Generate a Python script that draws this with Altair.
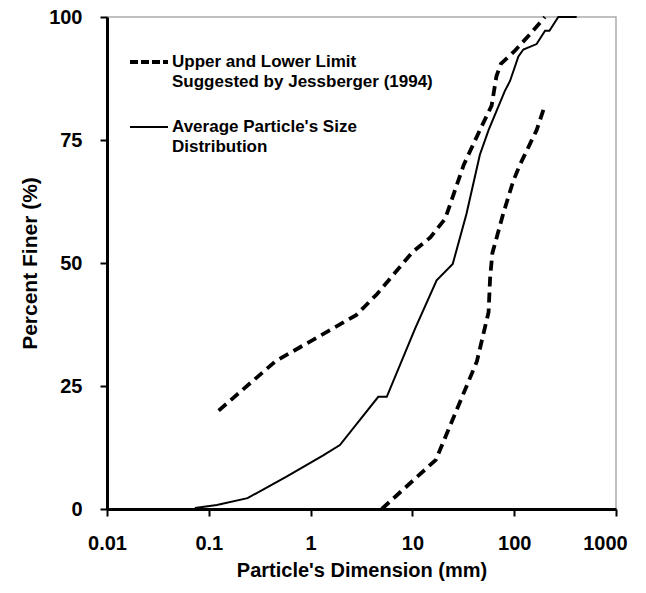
import altair as alt
import pandas as pd

# Upper limit (Jessberger 1994)
upper_x = [0.125, 0.45, 2.8, 4.5, 10, 15, 21, 32, 46, 60, 67, 74, 100, 143, 200]
upper_y = [20, 30, 39.4, 43.7, 52.2, 55.2, 59, 70, 77, 82, 88, 90.5, 93, 96.5, 100]

# Lower limit (Jessberger 1994)
lower_x = [5, 17, 43, 56, 58, 61, 78, 98, 114, 166, 200]
lower_y = [0, 10, 30, 40, 47, 52, 60, 66.7, 70, 77, 82]

# Average particle size distribution
avg_x = [0.073, 0.12, 0.24, 0.58, 1.33, 1.94, 4.62, 5.6, 10.6, 17.3, 24.9, 34, 46, 56,
         81, 91, 110, 123, 166, 201, 222, 271, 411]
avg_y = [0.2, 0.8, 2.2, 6.6, 10.9, 13, 22.8, 22.8, 36.6, 46.5, 49.8, 60, 72, 77,
         85, 87, 92, 93.4, 94.5, 97.2, 97.2, 100, 100]

x_ticks = [0.01, 0.1, 1, 10, 100, 1000]
y_ticks = [0, 25, 50, 75, 100]

legend_dash_lines = ["Upper and Lower Limit", "Suggested by Jessberger (1994)"]
legend_solid_lines = ["Average Particle's Size", "Distribution"]

FONT = "Liberation Sans"

dash_df = pd.DataFrame({
    "x": upper_x + lower_x,
    "y": upper_y + lower_y,
    "curve": ["upper"] * len(upper_x) + ["lower"] * len(lower_x),
    "order": list(range(len(upper_x))) + list(range(len(lower_x))),
})
avg_df = pd.DataFrame({"x": avg_x, "y": avg_y, "order": list(range(len(avg_x)))})

x_enc = alt.X(
    "x:Q",
    scale=alt.Scale(type="log", domain=[0.01, 1000]),
    axis=alt.Axis(
        values=x_ticks, format="~g", title="Particle's Dimension (mm)", grid=False,
        domainColor="black", domainWidth=3, tickColor="black", tickWidth=2, tickSize=7,
        labelFont=FONT, labelFontSize=20, labelFontWeight="bold", labelColor="black",
        labelPadding=17, labelFlush=False,
        labelOffset={"condition": {"test": "datum.value >= 1000", "value": -11}, "value": 0},
        titleFont=FONT, titleFontSize=20, titleFontWeight="bold", titleColor="black",
        titlePadding=7,
    ),
)
y_enc = alt.Y(
    "y:Q",
    scale=alt.Scale(domain=[0, 100]),
    axis=alt.Axis(
        values=y_ticks, title="Percent Finer (%)", grid=False,
        domainColor="black", domainWidth=3, tickColor="black", tickWidth=2, tickSize=7,
        labelFont=FONT, labelFontSize=20, labelFontWeight="bold", labelColor="black",
        labelPadding=18, labelFlush=False,
        titleFont=FONT, titleFontSize=21, titleFontWeight="bold", titleColor="black",
        titlePadding=8,
    ),
)

dashed = alt.Chart(dash_df).mark_line(
    color="black", strokeWidth=3.8, strokeDash=[10, 6]
).encode(x=x_enc, y=y_enc, detail="curve:N", order="order:Q")

solid = alt.Chart(avg_df).mark_line(color="black", strokeWidth=2).encode(
    x="x:Q", y="y:Q", order="order:Q"
)

one = pd.DataFrame({"k": [0]})
leg_dash = alt.Chart(one).mark_rule(color="black", strokeWidth=3.8, strokeDash=[8, 3]).encode(
    x=alt.value(23), x2=alt.value(61), y=alt.value(45)
)
leg_solid = alt.Chart(one).mark_rule(color="black", strokeWidth=2).encode(
    x=alt.value(23), x2=alt.value(61), y=alt.value(110)
)

def leg_text(txt, y):
    return alt.Chart(one).mark_text(
        align="left", baseline="middle", font=FONT, fontSize=17, fontWeight="bold", color="black"
    ).encode(x=alt.value(65), y=alt.value(y), text=alt.value(txt))

texts = [
    leg_text(legend_dash_lines[0], 45),
    leg_text(legend_dash_lines[1], 65),
    leg_text(legend_solid_lines[0], 110),
    leg_text(legend_solid_lines[1], 130),
]

chart = alt.layer(dashed, solid, leg_dash, leg_solid, *texts).properties(
    width=509, height=492,
    autosize=alt.AutoSizeParams(type="none"),
    padding={"left": 99, "top": 9, "right": 20, "bottom": 72},
    background="white",
).configure_view(stroke="#aaaaaa", strokeWidth=1.5)

chart.save("out.html", embed_options={"renderer": "svg", "actions": False})
